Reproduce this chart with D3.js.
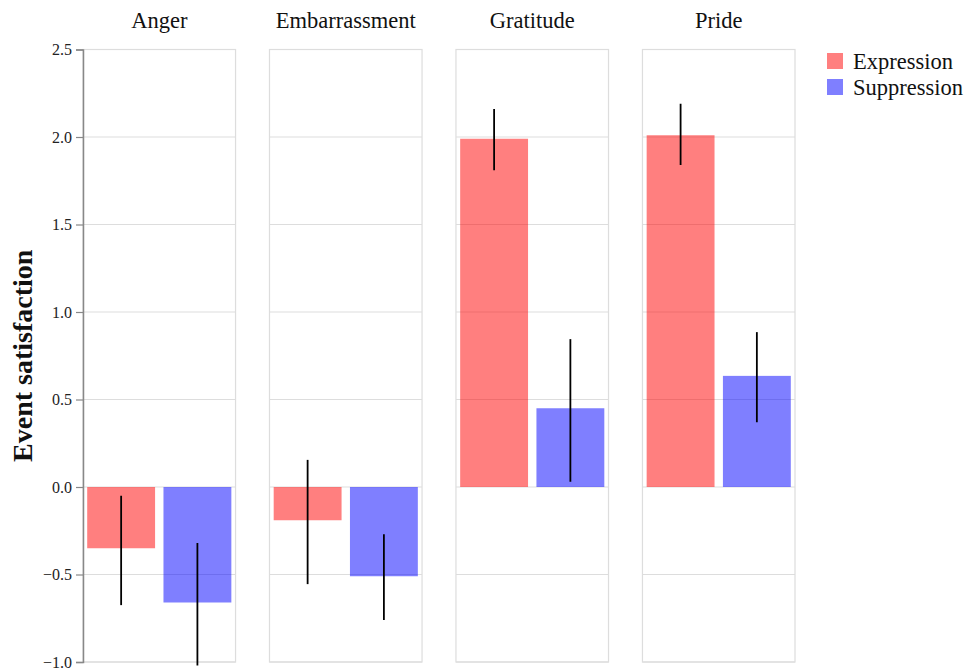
<!DOCTYPE html>
<html>
<head>
<meta charset="utf-8">
<script src="https://cdn.jsdelivr.net/npm/d3@7"></script>
<style>
  body { margin: 0; background: #fff; }
  svg, svg text { font-family: "Liberation Serif", "Times New Roman", serif; }
</style>
</head>
<body>
<svg id="chart"></svg>
<script>
const width = 979;
const height = 670;

const emotions = ["Anger", "Embarrassment", "Gratitude", "Pride"];
const conditions = ["Expression", "Suppression"];
const expressionMean = [-0.35, -0.19, 1.99, 2.01];
const suppressionMean = [-0.66, -0.51, 0.45, 0.635];
const expressionLow = [-0.675, -0.555, 1.81, 1.84];
const expressionHigh = [-0.05, 0.155, 2.16, 2.19];
const suppressionLow = [-1.02, -0.76, 0.03, 0.37];
const suppressionHigh = [-0.32, -0.27, 0.845, 0.885];
const yTicks = [-1.0, -0.5, 0.0, 0.5, 1.0, 1.5, 2.0, 2.5];

const colors = { Expression: "red", Suppression: "blue" };

const data = [];
emotions.forEach((e, i) => {
  data.push({ emotion: e, cond: "Expression", mean: expressionMean[i], lo: expressionLow[i], hi: expressionHigh[i] });
  data.push({ emotion: e, cond: "Suppression", mean: suppressionMean[i], lo: suppressionLow[i], hi: suppressionHigh[i] });
});

const svg = d3.select("#chart").attr("width", width).attr("height", height);

const facet = d3.scaleBand().domain(emotions).range([83, 795]).paddingInner(0.182);
const xScale = d3.scaleBand().domain(conditions).range([0, facet.bandwidth()])
  .paddingInner(0.11).paddingOuter(0.055);
const yScale = d3.scaleLinear().domain([-1, 2.5]).range([662, 49.5]);

const panels = svg.selectAll(".panel")
  .data(emotions)
  .enter()
  .append("g")
  .attr("class", "panel")
  .attr("transform", (d) => `translate(${facet(d)}, 0)`);

// grid lines
panels.selectAll(".grid")
  .data(yTicks)
  .enter()
  .append("line")
  .attr("x1", 0)
  .attr("x2", facet.bandwidth())
  .attr("y1", (d) => yScale(d))
  .attr("y2", (d) => yScale(d))
  .attr("stroke", "#dddddd")
  .attr("stroke-width", 1.2);

// panel border
panels.append("rect")
  .attr("x", 0)
  .attr("y", yScale(2.5))
  .attr("width", facet.bandwidth())
  .attr("height", yScale(-1) - yScale(2.5))
  .attr("fill", "none")
  .attr("stroke", "#dddddd")
  .attr("stroke-width", 1.2);

// titles
panels.append("text")
  .attr("x", facet.bandwidth() / 2)
  .attr("y", 28)
  .attr("text-anchor", "middle")
  .attr("font-size", 22.5)
  .attr("fill", "#111")
  .text((d) => d);

// bars
panels.selectAll(".bar")
  .data((e) => data.filter((d) => d.emotion === e))
  .enter()
  .append("rect")
  .attr("class", "bar")
  .attr("x", (d) => xScale(d.cond))
  .attr("width", xScale.bandwidth())
  .attr("y", (d) => yScale(Math.max(0, d.mean)))
  .attr("height", (d) => Math.abs(yScale(d.mean) - yScale(0)))
  .attr("fill", (d) => colors[d.cond])
  .attr("fill-opacity", 0.5);

// error bars
panels.selectAll(".err")
  .data((e) => data.filter((d) => d.emotion === e))
  .enter()
  .append("line")
  .attr("class", "err")
  .attr("x1", (d) => xScale(d.cond) + xScale.bandwidth() / 2)
  .attr("x2", (d) => xScale(d.cond) + xScale.bandwidth() / 2)
  .attr("y1", (d) => yScale(d.lo))
  .attr("y2", (d) => yScale(d.hi))
  .attr("stroke", "#000")
  .attr("stroke-width", 1.8);

// y axis
const yAxis = d3.axisLeft(yScale).tickValues(yTicks).tickFormat(d3.format(".1f")).tickSize(7).tickPadding(4);
const axisG = svg.append("g")
  .attr("transform", `translate(${facet(emotions[0])}, 0)`)
  .call(yAxis)
  .attr("font-family", null)
  .attr("font-size", null);
axisG.select(".domain").attr("stroke", "#888").attr("stroke-width", 1.5);
axisG.selectAll(".tick line").attr("stroke", "#888").attr("stroke-width", 1.2);
axisG.selectAll(".tick text")
  .style("font-size", "16px")
  .style("font-family", "'Liberation Serif', serif")
  .attr("fill", "#222")
  .text((d) => d3.format(".1f")(d).replace("-", "\u2212"));

// y label
svg.append("text")
  .attr("transform", `translate(32, ${yScale(0.75)}) rotate(-90)`)
  .attr("text-anchor", "middle")
  .attr("font-size", 28)
  .attr("font-weight", "bold")
  .attr("fill", "#111")
  .text("Event satisfaction");

// legend
const legend = svg.append("g").attr("transform", "translate(827, 53)");
conditions.forEach((c, i) => {
  legend.append("rect")
    .attr("x", 0)
    .attr("y", i * 26)
    .attr("width", 16)
    .attr("height", 16)
    .attr("fill", colors[c])
    .attr("fill-opacity", 0.5);
  legend.append("text")
    .attr("x", 26)
    .attr("y", i * 26 + 15.5)
    .attr("font-size", 22.5)
    .attr("fill", "#111")
    .text(c);
});
</script>
</body>
</html>
